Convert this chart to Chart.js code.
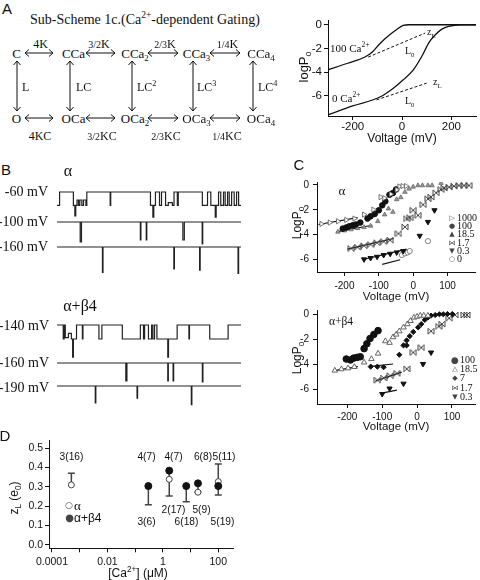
<!DOCTYPE html>
<html lang="en">
<head>
<meta charset="UTF-8" />
<meta name="viewport" content="width=480, initial-scale=1.0" />
<title>Ca2+-dependent gating</title>
<script src="https://cdn.jsdelivr.net/npm/chart.js"></script>
<style>
  html, body { margin: 0; padding: 0; background: #fff; }
  body { position: relative; width: 480px; height: 580px; overflow: hidden;
         font-family: "Liberation Sans", Arial, sans-serif; color: #111; }
  canvas { position: absolute; }
  #scheme { position: absolute; left: 0; top: 0; }
  .t { position: absolute; white-space: nowrap; line-height: 1; transform: translate(-50%, -50%); }
  .t.l { transform: translate(0, -50%); }
  .t.r { transform: translate(-100%, -50%); }
  .t.v { transform: translate(-50%, -50%) rotate(-90deg); }
  .s { font-family: "Liberation Serif", "Times New Roman", serif; }
  .sym { font-family: "DejaVu Sans", sans-serif; color: #444; }
  sub, sup { font-size: 68%; line-height: 0; }
</style>
</head>
<body>
<svg id="scheme" width="290" height="150"><path id="arrows" fill="none" stroke="#111" stroke-width="1"/></svg>

<script>
  // ---- A: simulated logPo vs voltage ----
  const aV100 = [-300, -220, -150, -120, -90, -50, -20, 5, 30, 300];
  const aP100 = [-3.8, -3.25, -2.72, -2.3, -1.6, -0.85, -0.38, -0.06, 0, 0];
  const aV0 = [-300, -200, -90, -35, 5, 46, 80, 108, 135, 162, 189, 237, 300];
  const aP0 = [-7.6, -6.85, -6.1, -5.35, -4.65, -3.8, -2.68, -1.55, -0.85, -0.37, -0.14, 0, 0];
  const aDashV100 = [-137, 94], aDashP100 = [-2.73, -0.7];
  const aDashV0 = [-103, 100], aDashP0 = [-6.34, -4.93];
  const aXTicks = [-200, 0, 200], aYTicks = [-6, -4, -2, 0];

  // ---- C: alpha, logPo vs voltage per [Ca2+] (uM) ----
  const c1000V = [-267, -243, -219, -195, -171, -143, -116, -95, -84, -65, -48, -40, -31, -21];
  const c1000P = [-3.14, -3.03, -2.93, -2.82, -2.71, -2.39, -1.99, -0.98, -1.06, -0.74, -0.39, -0.12, -0.09, -0.09];
  const c1000FitV = [-276, -162], c1000FitP = [-3.19, -2.63];
  const c100V = [-205, -195, -186, -176, -167, -154, -133, -124, -112, -100, -90, -81, -69, -59, -50];
  const c100P = [-3.52, -3.43, -3.33, -3.25, -3.19, -3.03, -2.71, -2.53, -2.34, -2.04, -1.64, -1.32, -0.79, -0.65, -0.36];
  const c100FitV = [-210, -148], c100FitP = [-3.52, -3.03];
  const c18V = [-219, -200, -181, -162, -143, -124, -103, -83, -72, -59, -48, -36, -24, -12, 0, 14, 27, 43, 55, 81];
  const c18P = [-3.78, -3.68, -3.59, -3.49, -3.41, -3.3, -2.93, -2.39, -1.91, -2.18, -1.16, -1.0, -0.57, -0.31, -0.15, -0.04, -0.04, -0.04, -0.04, 0.15];
  const c18FitV = [-224, -119], c18FitP = [-3.78, -3.25];
  const c17V = [-181, -162, -143, -124, -105, -86, -67, -43, -24, -19, -10, 0, 14, 29, 43, 52, 67, 81, 90, 105, 119, 133, 148, 162];
  const c17P = [-5.12, -5.01, -4.9, -4.8, -4.66, -4.56, -4.45, -3.92, -3.38, -2.71, -2.63, -2.04, -2.45, -1.59, -1.11, -0.98, -0.63, -0.36, -0.25, -0.17, -0.09, -0.04, -0.04, -0.04];
  const c17FitV = [-191, -57], c17FitP = [-5.17, -4.32];
  const c03V = [-143, -124, -105, -86, -67, -48, -29, 19, 43, 62];
  const c03P = [-6.0, -5.89, -5.79, -5.65, -5.55, -5.44, -5.33, -4.1, -2.98, -2.04];
  const c03FitV = [-148, -19], c03FitP = [-6.03, -5.17];
  const c0V = [-33, -24, -16, -10, 43];
  const c0P = [-5.65, -5.52, -5.44, -5.33, -4.53];
  const c0FitV = [-90, -38], c0FitP = [-6.4, -6.03];

  // ---- C: alpha+beta4 ----
  const d100V = [-203, -191, -182, -172, -163, -152, -144, -135, -124, -112];
  const d100P = [-3.55, -3.63, -3.48, -3.42, -3.37, -2.72, -2.33, -1.91, -1.59, -1.28];
  const d18V = [-236, -217, -198, -180, -152, -131, -112, -91, -79, -69, -60, -51, -39, -28, -19, -9, 0, 9, 19, 31];
  const d18P = [-4.47, -4.36, -4.29, -4.18, -3.82, -3.55, -3.11, -2.12, -2.25, -1.8, -1.59, -1.33, -1.02, -0.76, -0.5, -0.23, -0.16, -0.08, -0.08, -0.08];
  const d18FitV = [-241, -170], d18FitP = [-4.5, -4.16];
  const d7V = [-133, -114, -96, -51, -39, -30, -30, -21, -11, 3, 12, 22, 31, 40, 52, 64, 75, 87, 101];
  const d7P = [-4.16, -4.16, -4.21, -3.21, -2.46, -2.46, -2.06, -1.72, -1.38, -1.02, -0.76, -0.42, -0.23, -0.08, -0.03, 0.03, 0.03, 0.05, 0.05];
  const d7FitV = [-138, -69], d7FitP = [-4.16, -3.95];
  const d17V = [-114, -96, -77, -58, -30, -11, 12, 40, 62, 71, 92, 109, 134, 143];
  const d17P = [-5.25, -5.07, -4.89, -4.7, -4.34, -3.03, -2.64, -1.33, -0.94, -0.76, -0.29, -0.03, -0.03, -0.03];
  const d17FitV = [-119, -44], d17FitP = [-5.31, -4.6];
  const d03V = [-100, -79, -39, 17, 40];
  const d03P = [-6.35, -5.91, -5.52, -3.95, -3.03];
  const d03FitV = [-105, -58], d03FitP = [-6.3, -6.04];
  const cXTicks = [-200, -100, 0, 100], cYTicks = [-6, -4, -2, 0];

  // ---- D: zL vs [Ca2+] ----
  const zAlphaCa = [0.0005, 1.7, 18.5, 100];
  const zAlpha = [0.31, 0.339, 0.272, 0.327];
  const zBetaCa = [0.3, 1.7, 7, 18.5, 100];
  const zBeta = [0.304, 0.384, 0.304, 0.318, 0.304];
  const errCa = [0.0005, 0.3, 1.7, 7, 18.5, 100, 100];
  const errFrom = [0.31, 0.304, 0.384, 0.304, 0.318, 0.327, 0.304];
  const errTo = [0.37, 0.207, 0.252, 0.223, 0.272, 0.419, 0.258];
  const zXTicks = [1e-4, 1e-3, 1e-2, 1e-1, 1, 10, 100];
  const zXLabels = ['0.0001', '', '0.01', '', '1', '', '100'];
  const zYTicks = [0, 0.1, 0.2, 0.3, 0.4, 0.5];

  // ---- B: single-channel traces, [time %, level] change points ----
  const alpha60 = [[0,-1],[1.4,0],[8.9,-1],[9.7,-1.8],[10.2,-1],[10.9,-0.6],[11.7,-1],[12.4,-0.6],[13.5,-1],[14.4,-0.6],[15.7,-1],[16.2,0],
    [28.9,-1],[29.2,0],[50.8,-1],[52.1,-1.9],[52.6,-1],[53.5,0],[55.7,-1],[56.8,0],[59,-1],[60.5,-0.8],[62.7,-1],[63.6,0],[65.4,-1],[65.9,0],
    [79,-1],[81.8,0],[83.6,-1],[86,-1.9],[86.5,-1],[87.8,0],[89,-1],[90.5,0],[91.4,-1],[92.7,0],[93.6,-1],[94.9,0],[96.3,-1],[97.6,0],[98.7,-1],[100,-1]];
  const alpha100 = [[0,0],[12.6,-1],[13.3,0],[45.3,-0.9],[45.6,0],[48.5,-0.9],[48.8,0],[68.4,-0.9],[69.2,0],[78.9,-1.1],[79.2,0],[100,0]];
  const alpha160 = [[0,0],[24.7,-1.15],[25,0],[63.5,-1],[63.8,0],[77.5,-1.05],[77.8,0],[98.4,-1.2],[98.7,0],[100,0]];
  const beta140 = [[0,0],[3.4,-1],[3.9,0],[4.5,-0.9],[6.2,-0.6],[7.8,-1],[8.5,-2.3],[8.9,-1],[10.6,0],[13.8,-1],[14.1,0],[22.8,-1],[24.4,0],
    [35.5,-1],[45.3,0],[47,-1],[47.6,0],[49.7,-1],[51.4,0],[52.1,-1],[53,0],[54.3,-1],[60.2,-2.3],[60.6,-1],[65.3,0],[71.7,-1],[72,0],[83,-1],[93,0],[100,0]];
  const beta160 = [[0,0],[37.4,-1],[38,0],[60.2,-1],[60.5,0],[63.1,-1],[63.4,0],[79,-1.05],[79.3,0],[100,0]];
  const beta190 = [[0,0],[20.8,-1],[21.1,0],[43.5,-0.72],[43.8,0],[73,-1.1],[73.3,0],[100,0]];

  const ink = '#111';
  Chart.defaults.font.family = '"Liberation Sans", Arial, sans-serif';
  Chart.defaults.color = ink;
  Chart.defaults.animation = false;
  Chart.defaults.events = [];
  Chart.defaults.plugins.legend.display = false;
  Chart.defaults.plugins.tooltip.enabled = false;

  function put(html, x, y, cls, size) {
    const d = document.createElement('div');
    d.className = 't ' + (cls || '');
    d.style.left = x + 'px';
    d.style.top = y + 'px';
    if (size) d.style.fontSize = size + 'px';
    d.innerHTML = html;
    document.body.appendChild(d);
  }

  function canvasAt(x, y, w, h) {
    const c = document.createElement('canvas');
    c.width = w; c.height = h;
    c.style.left = x + 'px'; c.style.top = y + 'px';
    document.body.appendChild(c);
    return c;
  }

  const xy = (xs, ys) => xs.map((x, i) => ({ x: x, y: ys[i] }));

  function axis(min, max, tickVals, size, fontSize, pad, extra) {
    return Object.assign({
      type: 'linear', min: min, max: max,
      afterFit: s => { if (s.isHorizontal()) s.height = size; else s.width = size; },
      afterBuildTicks: s => { s.ticks = tickVals.map(v => ({ value: v })); },
      grid: { drawOnChartArea: false, tickLength: 4, color: ink },
      border: { color: ink, width: 1 },
      ticks: { font: { size: fontSize }, padding: pad, maxRotation: 0, autoSkip: false, callback: v => String(v) }
    }, extra || {});
  }

  function bowtie(r) {
    const c = document.createElement('canvas');
    c.width = c.height = 2 * r + 2;
    const g = c.getContext('2d');
    g.strokeStyle = '#444'; g.lineWidth = 1;
    g.beginPath();
    g.moveTo(1, 1); g.lineTo(2 * r + 1, 2 * r + 1); g.lineTo(2 * r + 1, 1); g.lineTo(1, 2 * r + 1);
    g.closePath(); g.stroke();
    return c;
  }

  const pts = (vs, ps, style) => Object.assign({ data: xy(vs, ps), showLine: false, pointBorderWidth: 1 }, style);
  const fit = (vs, ps) => ({ data: xy(vs, ps), showLine: true, borderColor: ink, borderWidth: 1.2, pointRadius: 0 });

  const openRight = { pointStyle: 'triangle', pointRotation: 90, pointRadius: 3, backgroundColor: '#fff', borderColor: '#555', pointBorderWidth: 0.8 };
  const dot = r => ({ pointStyle: 'circle', pointRadius: r, backgroundColor: ink, borderColor: ink });
  const smallTri = { pointStyle: 'triangle', pointRadius: 2.6, backgroundColor: '#999', borderColor: '#666', pointBorderWidth: 0.8 };
  const openTri = { pointStyle: 'triangle', pointRadius: 3.2, backgroundColor: '#fff', borderColor: '#555', pointBorderWidth: 0.9 };
  const bow = { pointStyle: bowtie(3), pointRadius: 3 };
  const down = { pointStyle: 'triangle', pointRotation: 180, pointRadius: 3, backgroundColor: ink, borderColor: ink };
  const ring = { pointStyle: 'circle', pointRadius: 2.6, backgroundColor: '#fff', borderColor: '#666', pointBorderWidth: 0.8 };
  const star = { pointStyle: 'rectRot', pointRadius: 2.6, backgroundColor: ink, borderColor: ink };

  // ---- A chart ----
  new Chart(canvasAt(288, 8, 192, 138), {
    type: 'scatter',
    data: { datasets: [
      { data: xy(aV100, aP100), showLine: true, borderColor: ink, borderWidth: 1.3, pointRadius: 0, cubicInterpolationMode: 'monotone' },
      { data: xy(aV0, aP0), showLine: true, borderColor: ink, borderWidth: 1.3, pointRadius: 0, cubicInterpolationMode: 'monotone' },
      { data: xy(aDashV100, aDashP100), showLine: true, borderColor: ink, borderWidth: 1, borderDash: [3, 2], pointRadius: 0 },
      { data: xy(aDashV0, aDashP0), showLine: true, borderColor: ink, borderWidth: 1, borderDash: [3, 2], pointRadius: 0 }
    ] },
    options: {
      responsive: false,
      layout: { padding: { left: 0, right: 4, top: 12, bottom: 0 } },
      scales: {
        x: axis(-300, 300, aXTicks, 30, 11.5, 0, { title: { display: true, text: 'Voltage (mV)', font: { size: 12 }, padding: 0 } }),
        y: axis(-7.7, 0.4, aYTicks, 40, 11.5, 2)
      }
    }
  });

  // ---- C charts ----
  new Chart(canvasAt(280, 172, 200, 132), {
    type: 'scatter',
    data: { datasets: [
      pts(c1000V, c1000P, openRight), pts(c100V, c100P, dot(2.8)), pts(c18V, c18P, smallTri),
      pts(c17V, c17P, bow), pts(c03V, c03P, down), pts(c0V, c0P, ring),
      fit(c1000FitV, c1000FitP), fit(c100FitV, c100FitP), fit(c18FitV, c18FitP),
      fit(c17FitV, c17FitP), fit(c03FitV, c03FitP), fit(c0FitV, c0FitP)
    ] },
    options: {
      responsive: false,
      layout: { padding: { left: 0, right: 2, top: 9.5, bottom: 0 } },
      scales: {
        x: axis(-280, 180, cXTicks, 32, 10, 4, { title: { display: true, text: 'Voltage (mV)', font: { size: 11.5 }, padding: 0 } }),
        y: axis(-7.02, 0.24, cYTicks, 37, 10, 4)
      }
    }
  });

  new Chart(canvasAt(280, 300, 200, 134), {
    type: 'scatter',
    data: { datasets: [
      pts(d100V, d100P, dot(3.3)), pts(d18V, d18P, openTri), pts(d7V, d7P, star),
      pts(d17V, d17P, bow), pts(d03V, d03P, down),
      fit(d18FitV, d18FitP), fit(d7FitV, d7FitP), fit(d17FitV, d17FitP), fit(d03FitV, d03FitP)
    ] },
    options: {
      responsive: false,
      layout: { padding: { left: 0, right: 2, top: 8.3, bottom: 0 } },
      scales: {
        x: axis(-287, 166, cXTicks, 30, 10, 3, { title: { display: true, text: 'Voltage (mV)', font: { size: 11.5 }, padding: 0 } }),
        y: axis(-7.15, 0.37, cYTicks, 37, 10, 4)
      }
    }
  });

  // ---- D chart ----
  const errBars = errCa.map((ca, i) => ({
    data: [{ x: ca, y: errFrom[i] }, { x: ca, y: errTo[i] }],
    showLine: true, borderColor: '#444', borderWidth: 1.5,
    pointStyle: 'line', pointRadius: [0, 3.5], pointBorderWidth: 1.5, pointBorderColor: '#444'
  }));
  new Chart(canvasAt(0, 430, 240, 150), {
    type: 'scatter',
    data: { datasets: [
      pts(zBetaCa, zBeta, dot(3.5)),
      pts(zAlphaCa, zAlpha, { pointStyle: 'circle', pointRadius: 3, backgroundColor: '#fff', borderColor: '#444' })
    ].concat(errBars) },
    options: {
      responsive: false,
      layout: { padding: { left: 0, right: 7, top: 10, bottom: 0 } },
      scales: {
        x: {
          type: 'logarithmic', min: 0.000078, max: 340,
          afterFit: s => { s.height = 31.7; },
          afterBuildTicks: s => { s.ticks = zXTicks.map(v => ({ value: v })); },
          grid: { drawOnChartArea: false, tickLength: 4, color: ink },
          border: { color: ink, width: 1 },
          ticks: { font: { size: 10.5 }, padding: 4, maxRotation: 0, autoSkip: false, callback: (v, i) => zXLabels[i] }
        },
        y: axis(-0.019, 0.543, zYTicks, 49, 10.5, 2, { ticks: { font: { size: 10.5 }, padding: 2, autoSkip: false, callback: v => v.toFixed(1) } })
      }
    }
  });

  // ---- B traces ----
  function trace(events, baseline, k) {
    new Chart(canvasAt(57, baseline - 8, 184, 46), {
      type: 'scatter',
      data: { datasets: [{
        data: events.map(e => ({ x: e[0], y: e[1] })),
        showLine: true, stepped: true, borderColor: '#222', borderWidth: 1.2, pointRadius: 0
      }] },
      options: {
        responsive: false,
        layout: { padding: 0 },
        scales: {
          x: { type: 'linear', display: false, min: 0, max: 100 },
          y: { type: 'linear', display: false, min: -38 / k, max: 8 / k }
        }
      }
    });
  }
  trace(alpha60, 192, 13.3);
  trace(alpha100, 222, 20);
  trace(alpha160, 247, 22);
  trace(beta140, 325, 14);
  trace(beta160, 363, 18);
  trace(beta190, 386, 17);

  // ---- scheme arrows ----
  const arrows = [];
  function hArrow(x1, x2, y) {
    arrows.push(`M${x1 + 4},${y - 3.5}L${x1},${y}L${x1 + 4},${y + 3.5}M${x1},${y}H${x2}M${x2 - 4},${y - 3.5}L${x2},${y}L${x2 - 4},${y + 3.5}`);
  }
  function vArrow(x, y1, y2) {
    arrows.push(`M${x - 3.5},${y1 + 4}L${x},${y1}L${x + 3.5},${y1 + 4}M${x},${y1}V${y2}M${x - 3.5},${y2 - 4}L${x},${y2}L${x + 3.5},${y2 - 4}`);
  }
  [[25, 53], [86, 115], [148, 178], [210, 240]].forEach(p => { hArrow(p[0], p[1], 53); hArrow(p[0], p[1], 118); });
  [17, 70, 132, 193, 253].forEach(x => vArrow(x, 61, 111));
  document.getElementById('arrows').setAttribute('d', arrows.join(''));

  // ---- text ----
  put('A', 7, 8, '', 15); put('B', 6, 169, '', 15); put('C', 299, 164, '', 15); put('D', 5, 435, '', 15);
  put('Sub-Scheme 1c.(Ca<sup>2+</sup>-dependent Gating)', 30, 20, 's l', 14);

  [['C', 16.5], ['CCa', 73.5], ['CCa<sub>2</sub>', 135], ['CCa<sub>3</sub>', 196.5], ['CCa<sub>4</sub>', 261]].forEach(p => put(p[0], p[1], 53, 's', 13));
  [['O', 16.5], ['OCa', 73.5], ['OCa<sub>2</sub>', 135], ['OCa<sub>3</sub>', 196.5], ['OCa<sub>4</sub>', 261]].forEach(p => put(p[0], p[1], 118, 's', 13));
  [['4K', 40.5], ['<small>3/2</small>K', 99], ['<small>2/3</small>K', 165], ['<small>1/4</small>K', 227.5]].forEach(p => put(p[0], p[1], 43.5, 's', 12));
  [['4KC', 40], ['<small>3/2</small>KC', 102], ['<small>2/3</small>KC', 166], ['<small>1/4</small>KC', 227]].forEach(p => put(p[0], p[1], 135.5, 's', 12));
  [['L', 22], ['LC', 76], ['LC<sup>2</sup>', 137], ['LC<sup>3</sup>', 197], ['LC<sup>4</sup>', 258]].forEach(p => put(p[0], p[1], 87, 's l', 12));

  put('logP<sub>o</sub>', 303, 67, 'v', 13);
  put('100 Ca<sup>2+</sup>', 330, 48, 's l', 11);
  put('0 Ca<sup>2+</sup>', 332, 98, 's l', 11);
  put('z<sub>L</sub>', 427, 32, 's l', 10);
  put('L<sub>0</sub>', 405, 51, 's l', 10);
  put('z<sub>L</sub>', 433, 82, 's l', 10);
  put('L<sub>0</sub>', 405, 101, 's l', 10);

  put('α', 68, 171, 's', 16);
  [['-60 mV', 192], ['-100 mV', 222], ['-160 mV', 247]].forEach(p => put(p[0], 48, p[1], 's r', 14));
  put('α+β4', 80, 306, 's', 16);
  [['-140 mV', 326], ['-160 mV', 363], ['-190 mV', 388]].forEach(p => put(p[0], 49, p[1], 's r', 14));

  put('LogP<sub>o</sub>', 297, 223, 'v', 12);
  put('LogP<sub>o</sub>', 297, 358, 'v', 12);
  put('α', 342, 190, 's', 13);
  put('α+β4', 341, 322, 's', 11.5);
  [['▷', '1000'], ['●', '100'], ['▲', '18.5'], ['⋈', '1.7'], ['▼', '0.3'], ['○', '0']].forEach((p, i) => {
    const y = 218 + i * 8.2;
    put(p[0], 452, y, 'sym', 7);
    put(p[1], 457, y, 's l', 10);
  });
  [['●', '100'], ['△', '18.5'], ['◆', '7'], ['⋈', '1.7'], ['▼', '0.3']].forEach((p, i) => {
    const y = 360 + i * 9.2;
    put(p[0], 455, y, 'sym', p[0] === '●' ? 9 : 7);
    put(p[1], 460, y, 's l', 10);
  });

  put('z<sub>L</sub> (e<sub>0</sub>)', 14, 498, 'v', 12);
  put('[Ca<sup>2+</sup>] (μM)', 138, 573, '', 12);
  [['3(16)', 71.5, 456.5], ['4(7)', 146.5, 456.5], ['4(7)', 173.5, 456.5], ['6(8)', 203, 456.5], ['5(11)', 224, 456.5],
   ['3(6)', 146.5, 521.5], ['2(17)', 173.5, 509.5], ['6(18)', 186.5, 521.5], ['5(9)', 201.5, 509.5], ['5(19)', 222.5, 521.5]]
    .forEach(p => put(p[0], p[1], p[2], '', 10.2));
  put('○', 69, 505, 'sym', 9);
  put('α', 74, 505, 's l', 13);
  put('●', 69.5, 518, 'sym', 10);
  put('α+β4', 74, 518, 'l', 12);
</script>
</body>
</html>
